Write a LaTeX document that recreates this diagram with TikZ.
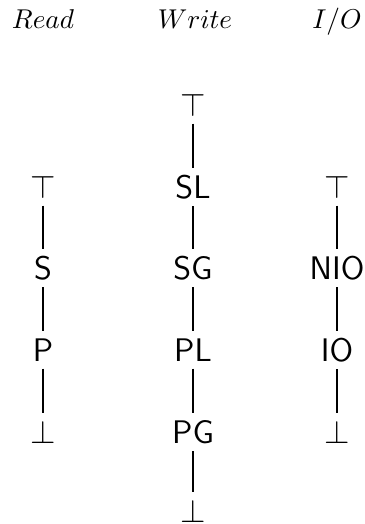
\documentclass[tikz,border=0pt]{standalone}
\begin{document}
\begin{tikzpicture}[x=0.3676pt, y=-0.3676pt,
  lbl/.style={font=\large\sffamily, inner sep=2.5pt},
  hdr/.style={font=\normalsize, anchor=base},
  edge/.style={line width=1.05pt, draw=black}]
\useasboundingbox (0,0) rectangle (364,524);
% column headers
\node[hdr] (hr) at (43,29) {$Read$};
\node[hdr] (hw) at (195,29) {$Write$};
\node[hdr] (hi) at (337,29) {$I/O$};
% read column
\node[lbl] (rt) at (43,187) {$\top$};
\node[lbl] (rs) at (43,268) {S};
\node[lbl] (rp) at (43,350) {P};
\node[lbl] (rb) at (43,432) {$\bot$};
% write column
\node[lbl] (wt) at (193,105) {$\top$};
\node[lbl] (wsl) at (193,187) {SL};
\node[lbl] (wsg) at (193,268) {SG};
\node[lbl] (wpl) at (193,350) {PL};
\node[lbl] (wpg) at (193,432) {PG};
\node[lbl] (wb) at (193,511) {$\bot$};
% I/O column
\node[lbl] (it) at (337,187) {$\top$};
\node[lbl] (inio) at (337,268) {NIO};
\node[lbl] (iio) at (337,350) {IO};
\node[lbl] (ib) at (337,432) {$\bot$};
% orderings
\draw[edge] (rt) -- (rs);
\draw[edge] (rs) -- (rp);
\draw[edge] (rp) -- (rb);
\draw[edge] (wt) -- (wsl);
\draw[edge] (wsl) -- (wsg);
\draw[edge] (wsg) -- (wpl);
\draw[edge] (wpl) -- (wpg);
\draw[edge] (wpg) -- (wb);
\draw[edge] (it) -- (inio);
\draw[edge] (inio) -- (iio);
\draw[edge] (iio) -- (ib);
\end{tikzpicture}
\end{document}
